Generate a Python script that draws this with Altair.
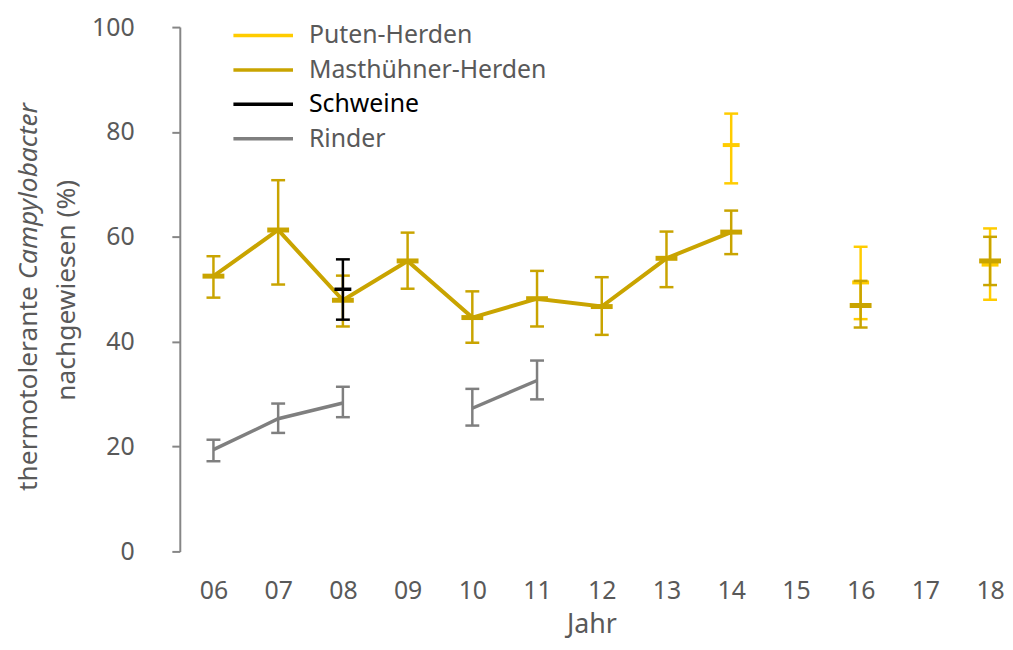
import altair as alt
import pandas as pd

# ---- data ----
years = [6, 7, 8, 9, 10, 11, 12, 13, 14, 15, 16, 17, 18]

series_names = ["Puten-Herden", "Masthühner-Herden", "Schweine", "Rinder"]
series_colors = ["#FFCC00", "#C9A400", "#000000", "#7F7F7F"]
label_colors = ["#595959", "#595959", "#000000", "#595959"]

N = None
puten_val = [N, N, N, N, N, N, N, N, 77.5, N, 51.3, N, 54.7]
puten_lo = [N, N, N, N, N, N, N, N, 70.2, N, 44.3, N, 48.0]
puten_hi = [N, N, N, N, N, N, N, N, 83.5, N, 58.1, N, 61.6]

mast_val = [52.5, 61.3, 47.9, 55.4, 44.6, 48.2, 46.7, 55.9, 60.9, N, 46.9, N, 55.4]
mast_lo = [48.4, 50.9, 42.9, 50.1, 39.8, 42.9, 41.3, 50.4, 56.7, N, 42.7, N, 50.8]
mast_hi = [56.3, 70.8, 52.6, 60.8, 49.6, 53.5, 52.3, 61.0, 65.0, N, 51.6, N, 60.0]

schwein_val = [N, N, 50.0, N, N, N, N, N, N, N, N, N, N]
schwein_lo = [N, N, 44.2, N, N, N, N, N, N, N, N, N, N]
schwein_hi = [N, N, 55.7, N, N, N, N, N, N, N, N, N, N]

rind_val = [19.4, 25.3, 28.3, N, 27.3, 32.6, N, N, N, N, N, N, N]
rind_lo = [17.2, 22.6, 25.6, N, 24.0, 29.0, N, N, N, N, N, N, N]
rind_hi = [21.3, 28.2, 31.4, N, 31.0, 36.4, N, N, N, N, N, N, N]

FONT = "Noto Sans"
GREY_TXT = "#595959"
AXIS_GREY = "#868686"


def frame(name, val, lo, hi):
    rows = []
    seg = 0
    prev = None
    for yr, v, l, h in zip(years, val, lo, hi):
        if v is None:
            continue
        if prev is not None and yr - prev > 1:
            seg += 1
        prev = yr
        rows.append({"series": name, "year": yr, "val": v, "lo": l, "hi": h, "seg": seg})
    return pd.DataFrame(rows)


x_enc = alt.X(
    "year:Q",
    scale=alt.Scale(domain=[5.48, 18.2], nice=False, zero=False),
    axis=alt.Axis(
        values=years, format="02d", domain=False, ticks=False, tickSize=0, grid=False,
        labelFontSize=25, labelColor=GREY_TXT, labelPadding=27,
        title="Jahr", titleFontSize=27, titleFontWeight="normal", titleColor=GREY_TXT,
        titlePadding=9,
    ),
)
y_scale = alt.Scale(domain=[0, 100], nice=False)
y_axis = alt.Axis(
    values=[0, 20, 40, 60, 80, 100], grid=False, tickSize=8, tickWidth=2, tickColor=AXIS_GREY,
    domainColor=AXIS_GREY, domainWidth=2, labelFontSize=25, labelColor=GREY_TXT,
    labelPadding=38, title=None,
)


def series_layers(df, color, line_w, bar_w, cap_w, marker):
    base = alt.Chart(df)
    layers = []
    if line_w:
        layers.append(
            base.mark_line(color=color, strokeWidth=line_w).encode(
                x=x_enc, y=alt.Y("val:Q", scale=y_scale, axis=y_axis), detail="seg:N"
            )
        )
    layers.append(
        base.mark_rule(color=color, strokeWidth=bar_w).encode(
            x=x_enc, y=alt.Y("lo:Q", scale=y_scale, axis=y_axis), y2="hi:Q"
        )
    )
    for fld in ["lo", "hi"]:
        layers.append(
            base.mark_tick(color=color, orient="horizontal", size=cap_w, thickness=bar_w,
                           opacity=1).encode(
                x=x_enc, y=alt.Y(f"{fld}:Q", scale=y_scale, axis=y_axis)
            )
        )
    if marker:
        layers.append(
            base.mark_tick(color=color, orient="horizontal", size=marker[0], thickness=marker[1],
                           opacity=1).encode(
                x=x_enc, y=alt.Y("val:Q", scale=y_scale, axis=y_axis)
            )
        )
    return layers


df_p = frame(series_names[0], puten_val, puten_lo, puten_hi)
df_m = frame(series_names[1], mast_val, mast_lo, mast_hi)
df_s = frame(series_names[2], schwein_val, schwein_lo, schwein_hi)
df_r = frame(series_names[3], rind_val, rind_lo, rind_hi)

layers = []
layers += series_layers(df_r, series_colors[3], 3.5, 2.5, 14, None)
layers += series_layers(df_p, series_colors[0], 0, 2.5, 14, (17, 4))
layers += series_layers(df_m, series_colors[1], 4, 2.5, 14, (22, 5))
layers += series_layers(df_s, series_colors[2], 0, 2.5, 14, (17, 3.5))

# ---- legend (manual, to allow per-label colours) ----
legend_y = [98.4, 91.8, 85.3, 78.7]
df_leg = pd.DataFrame({
    "label": series_names, "col": series_colors, "tcol": label_colors, "ly": legend_y,
})
leg = alt.Chart(df_leg)
layers.append(
    leg.mark_rule(strokeWidth=3.5).encode(
        x=alt.value(54), x2=alt.value(114),
        y=alt.Y("ly:Q", scale=y_scale, axis=y_axis),
        color=alt.Color("col:N", scale=None),
    )
)
layers.append(
    leg.mark_text(align="left", baseline="middle", fontSize=25, font=FONT).encode(
        x=alt.value(130), y=alt.Y("ly:Q", scale=y_scale, axis=y_axis),
        text="label:N", color=alt.Color("tcol:N", scale=None),
    )
)

# ---- y-axis title with italic genus name ----
TFS = 26.5
one = pd.DataFrame({"a": [0]})
layers.append(
    alt.Chart(one).mark_text(text="thermotolerante", angle=270, align="right", baseline="alphabetic",
                             fontSize=TFS, font=FONT, color=GREY_TXT).encode(
        x=alt.value(-144), y=alt.value(261))
)
layers.append(
    alt.Chart(one).mark_text(text="Campylobacter", angle=270, align="left", baseline="alphabetic",
                             fontSize=TFS, font=FONT, fontStyle="italic", color=GREY_TXT).encode(
        x=alt.value(-144), y=alt.value(254))
)
layers.append(
    alt.Chart(one).mark_text(text="nachgewiesen (%)", angle=270, align="center", baseline="alphabetic",
                             fontSize=TFS, font=FONT, color=GREY_TXT).encode(
        x=alt.value(-106), y=alt.value(265))
)

chart = alt.layer(*layers).properties(
    width=829, height=528,
    autosize=alt.AutoSizeParams(type="none"),
    padding={"left": 173, "top": 17, "right": 2, "bottom": 89},
).configure(font=FONT).configure_view(strokeWidth=0)

chart.save("out.html", embed_options={"renderer": "svg", "actions": False})
